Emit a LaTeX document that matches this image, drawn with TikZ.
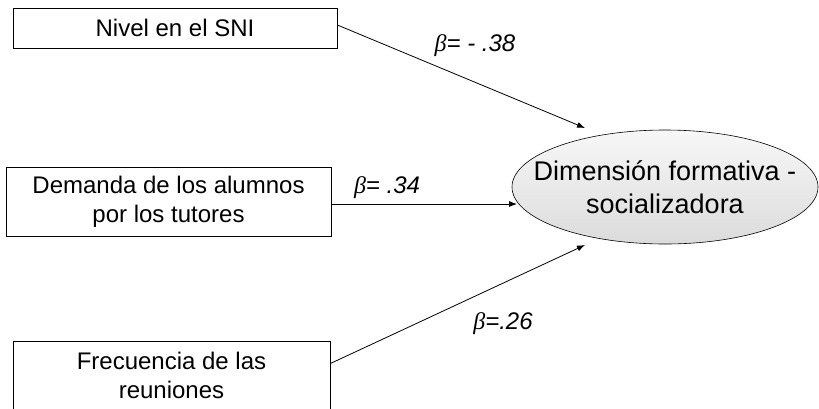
\documentclass[tikz,border=0pt]{standalone}
\usepackage{fontspec}
\setmainfont{Liberation Sans}
\newfontfamily\greekfont{Liberation Serif}
\usetikzlibrary{arrows.meta,shapes.geometric}

\newcommand{\bet}{{\greekfont\itshape β}}

\begin{document}
\begin{tikzpicture}[x=1pt,y=-1pt,>={Latex[length=8pt,width=6pt]},
    varbox/.style={draw,line width=0.8pt,inner sep=0pt,align=center,
      font=\fontsize{24}{29}\selectfont},
    coef/.style={font=\itshape\fontsize{24}{28}\selectfont}]
  \useasboundingbox (0,0) rectangle (819,408);
  \clip (0,0) rectangle (819,408);
  % predictores
  \node[varbox,minimum width=324pt,minimum height=40pt] (sni) at (175,28) {Nivel en el SNI};
  \node[varbox,minimum width=325pt,minimum height=69pt] (dem) at (168.5,201.5) {Demanda de los alumnos\\por los tutores};
  \node[varbox,minimum width=317pt,minimum height=69pt] (reu) at (171.5,375.5) {Frecuencia de las\\reuniones};
  % variable dependiente
  \node[ellipse,draw,line width=0.6pt,top color=gray!6,bottom color=gray!28,
    minimum width=306pt,minimum height=114pt,inner sep=0pt,
    label={[align=center,font=\fontsize{27}{33}\selectfont]center:Dimensión formativa -\\socializadora}] (dim) at (665,187) {};
  \coordinate (t1) at (585,128);
  \coordinate (t2) at (517,204);
  \coordinate (t3) at (585,245);
  \draw[->,line width=0.8pt] ([yshift=3pt]sni.east) -- (t1);
  \draw[->,line width=0.8pt] ([yshift=-2.5pt]dem.east) -- ([yshift=-2.5pt]dem.east -| t2);
  \draw[->,line width=0.8pt] ([yshift=12pt]reu.east) -- (t3);
  % coeficientes
  \node[coef] (b1) at (475,46) {\bet= - .38};
  \node[coef] (b2) at (387,188) {\bet= .34};
  \node[coef] (b3) at (503,324) {\bet=.26};
\end{tikzpicture}
\end{document}
